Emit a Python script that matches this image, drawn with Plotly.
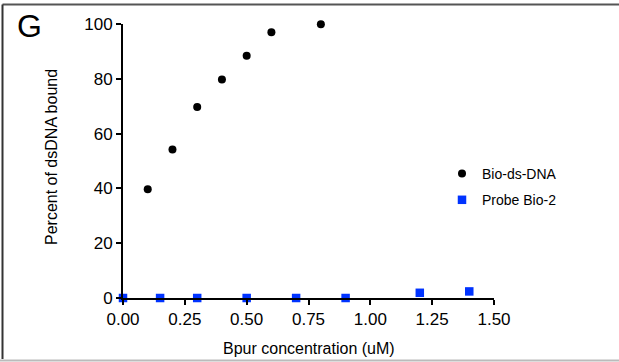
import plotly.graph_objects as go

# Data
ds_x = [0.1, 0.2, 0.3, 0.4, 0.5, 0.6, 0.8]
ds_y = [39.7, 54.2, 69.7, 79.7, 88.4, 97.0, 99.9]
probe_x = [0.0, 0.15, 0.3, 0.5, 0.7, 0.9, 1.2, 1.4]
probe_y = [0, 0, 0, 0, 0, 0, 1.9, 2.4]
x_ticks = [0.0, 0.25, 0.5, 0.75, 1.0, 1.25, 1.5]
x_tick_labels = ["0.00", "0.25", "0.50", "0.75", "1.00", "1.25", "1.50"]
y_ticks = [0, 20, 40, 60, 80, 100]

W, H = 619, 362
L, R, T, B = 123, 125, 24, 64
PW, PH = W - L - R, H - T - B

def px(xp):
    return (xp - L) / PW

def py(yp):
    return (H - B - yp) / PH

FONT = "Arial, Liberation Sans, Helvetica, sans-serif"
BLUE = "#0033ff"

fig = go.Figure()
fig.add_trace(go.Scatter(
    x=ds_x, y=ds_y, mode="markers", name="Bio-ds-DNA",
    legendgroup="a",
    marker=dict(symbol="circle", size=8, color="black"),
    cliponaxis=False,
))
fig.add_trace(go.Scatter(
    x=probe_x, y=probe_y, mode="markers", name="Probe Bio-2",
    legendgroup="b",
    marker=dict(symbol="square", size=8.5, color=BLUE),
    cliponaxis=False,
))

axis_common = dict(
    showline=True, linecolor="black", linewidth=2,
    ticks="outside", ticklen=5, tickwidth=2, tickcolor="black",
    showgrid=False, zeroline=False,
    tickfont=dict(family=FONT, size=17, color="black"),
)

fig.update_layout(
    width=W, height=H,
    margin=dict(l=L, r=R, t=T, b=B),
    paper_bgcolor="white", plot_bgcolor="white",
    xaxis=dict(range=[0, 1.5], tickvals=x_ticks, ticktext=x_tick_labels, **axis_common),
    yaxis=dict(range=[0, 100], tickvals=y_ticks, **axis_common),
    legend=dict(
        x=px(442), y=py(158), xanchor="left", yanchor="top",
        font=dict(family=FONT, size=14, color="black"),
        traceorder="grouped", tracegroupgap=5, itemwidth=30,
        bgcolor="rgba(0,0,0,0)",
    ),
    showlegend=True,
    annotations=[
        dict(text="G", x=px(29), y=py(26), xref="paper", yref="paper",
             xanchor="center", yanchor="middle",
             showarrow=False, font=dict(family=FONT, size=32, color="black")),
        dict(text="Percent of dsDNA bound", x=px(51), y=py(157), xref="paper", yref="paper",
             xanchor="center", yanchor="middle",
             showarrow=False, textangle=-90, font=dict(family=FONT, size=16, color="black")),
        dict(text="Bpur concentration (uM)", x=0.5, y=py(348), xref="paper", yref="paper",
             xanchor="center", yanchor="middle",
             showarrow=False, font=dict(family=FONT, size=16, color="black")),
    ],
    shapes=[
        dict(type="line", xref="paper", yref="paper", x0=px(2.5), x1=px(619), y0=py(4.5), y1=py(4.5),
             line=dict(color="#555555", width=2)),
        dict(type="line", xref="paper", yref="paper", x0=px(2.5), x1=px(2.5), y0=py(4.5), y1=py(359),
             line=dict(color="#333333", width=2)),
        dict(type="line", xref="paper", yref="paper", x0=px(0), x1=px(619), y0=py(360.5), y1=py(360.5),
             line=dict(color="#bbbbbb", width=2)),
    ],
)

fig.write_html("out.html")
